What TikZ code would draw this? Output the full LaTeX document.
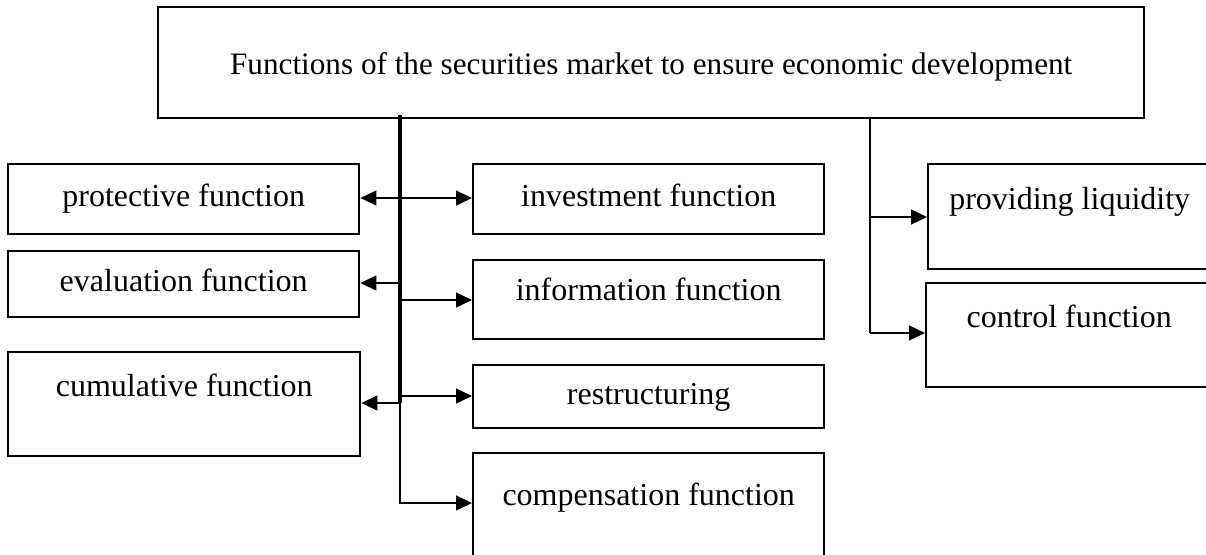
\documentclass[tikz,border=0pt]{standalone}
\usepackage{fontspec}
\setmainfont{Liberation Serif}
\usetikzlibrary{arrows.meta}

\tikzset{
	fbox/.style={draw, line width=1.2pt, anchor=north west, inner sep=0pt,
		text height=11pt, text depth=3.5pt, font=\fontsize{16}{19}\selectfont},
	arr/.style={line width=0.6pt, -{Triangle[length=8pt,width=7.5pt]}},
	trunk/.style={line width=1.6pt}
}

\begin{document}
\begin{tikzpicture}[x=0.5pt, y=-0.5pt]
		%%%%% START %%%%%
		\useasboundingbox (0,0) rectangle (1206,554);
		
		\node[fbox, minimum width=493pt, minimum height=55.5pt, text height=15.5pt, font=\fontsize{15.6}{19}\selectfont] (top) at (157,6) {Functions of the securities market to ensure economic development};
		
		% left column
		\node[fbox, minimum width=175.5pt, minimum height=35pt] (prot) at (7,163) {protective function};
		\node[fbox, minimum width=175.5pt, minimum height=33pt] (eval) at (7,250) {evaluation function};
		\node[fbox, minimum width=176pt, minimum height=52pt, text depth=18.5pt] (cumul) at (7,351) {cumulative function};
		
		% middle column
		\node[fbox, minimum width=175.5pt, minimum height=35pt] (invest) at (472,163) {investment function};
		\node[fbox, minimum width=175.5pt, minimum height=39.5pt, text depth=10.5pt] (info) at (472,259) {information function};
		\node[fbox, minimum width=175.5pt, minimum height=31.5pt] (restr) at (472,364) {restructuring};
		\node[fbox, minimum width=175.5pt, minimum height=55pt, text depth=13.5pt] (comp) at (472,452) {compensation function};
		
		% right column
		\node[fbox, minimum width=141.5pt, minimum height=52.5pt, text depth=18pt] (liq) at (927,163) {providing liquidity};
		\node[fbox, minimum width=143pt, minimum height=52pt, text depth=18.5pt] (ctrl) at (925,282) {control function};
		
		% junctions
		\coordinate (t0) at (400,115);
		\coordinate (j1) at (400,198);
		\coordinate (j2) at (400,283);
		\coordinate (j3) at (400,300);
		\coordinate (j4) at (400,396);
		\coordinate (j5) at (400,403);
		\coordinate (j6) at (400,503);
		\coordinate (r0) at (870,118);
		\coordinate (r1) at (870,217);
		\coordinate (r2) at (870,333);
		
		\draw[trunk] (t0) -- (j5);
		\draw[line width=0.7pt] (r0) -- (r2);
		
		\draw[arr] (j1) -- (j1 -| prot.east);
		\draw[arr] (j1) -- (j1 -| invest.west);
		\draw[arr] (j2) -- (j2 -| eval.east);
		\draw[arr] (j3) -- (j3 -| info.west);
		\draw[arr] (j4) -- (j4 -| restr.west);
		\draw[arr] (j5) -- (j5 -| cumul.east);
		\draw[arr] (j5) -- (j6) -- (j6 -| comp.west);
		\draw[arr] (r1) -- (r1 -| liq.west);
		\draw[arr] (r2) -- (r2 -| ctrl.west);
		%%%%% END %%%%%
	\end{tikzpicture}
\end{document}
